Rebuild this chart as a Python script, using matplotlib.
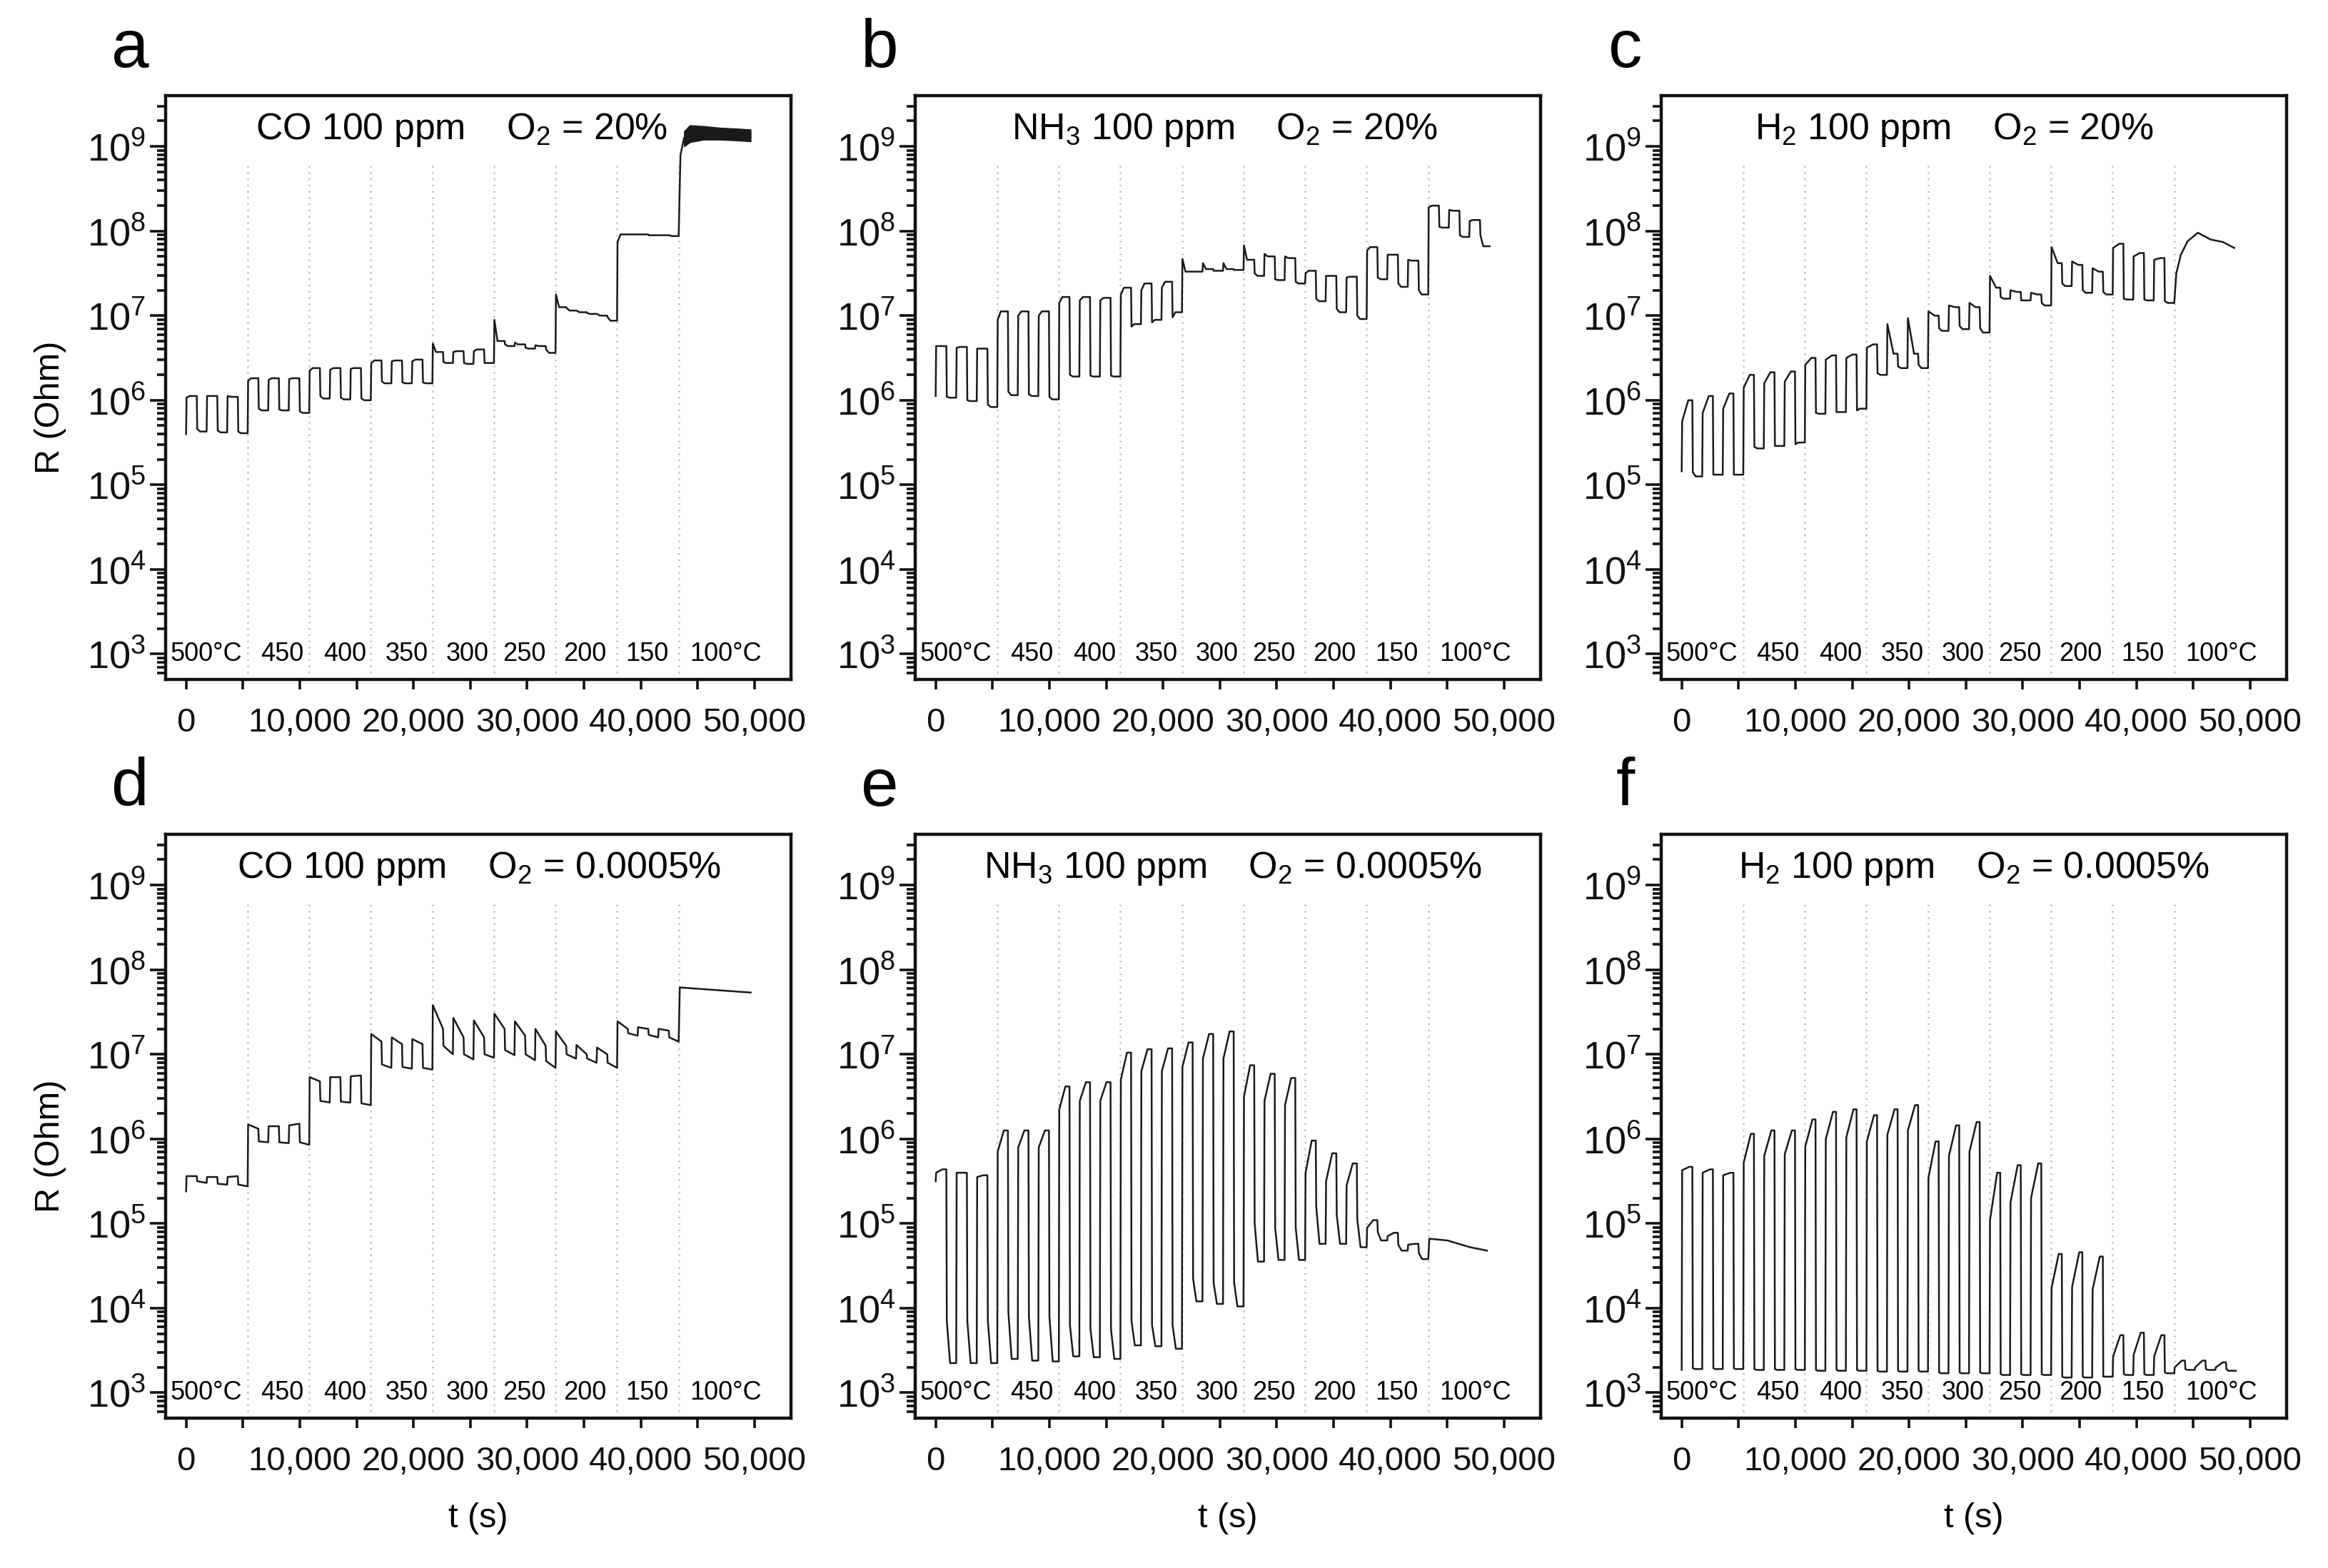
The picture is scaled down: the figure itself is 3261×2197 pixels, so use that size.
import numpy as np
import matplotlib
matplotlib.use("Agg")
import matplotlib.pyplot as plt
from matplotlib.ticker import FuncFormatter, MultipleLocator, LogLocator, NullFormatter

plt.rcParams['font.family'] = ['Liberation Sans', 'DejaVu Sans']
plt.rcParams['mathtext.fontset'] = 'custom'
plt.rcParams['mathtext.rm'] = 'Liberation Sans'
plt.rcParams['mathtext.it'] = 'Liberation Sans:italic'

# time protocol: 9 temperature steps, 3 gas pulses each
L = 5415.0          # s per temperature step
P = L / 3           # s per pulse
HI_FRAC = 0.52
RISE = 40.0

temps = ["500°C", "450", "400", "350", "300", "250", "200", "150", "100°C"]
temp_x = [1760, 8470, 13950, 19390, 24730, 29750, 35070, 40550, 47490]

titles = ["CO 100 ppm    O$_2$ = 20%",
          "NH$_3$ 100 ppm    O$_2$ = 20%",
          "H$_2$ 100 ppm    O$_2$ = 20%",
          "CO 100 ppm    O$_2$ = 0.0005%",
          "NH$_3$ 100 ppm    O$_2$ = 0.0005%",
          "H$_2$ 100 ppm    O$_2$ = 0.0005%"]
letters = ["a", "b", "c", "d", "e", "f"]

# log10(R / Ohm) per pulse: start/end of high part, start/end of low part
# --- a: CO, 20% O2
a_start = 5.60
a_hi0 = [6.03, 6.05, 6.05, 6.23, 6.24, 6.25, 6.35, 6.36, 6.37, 6.44, 6.46, 6.46,
         6.67, 6.57, 6.58, 6.95, 6.68, 6.65, 7.25, 7.06, 7.02, 7.87, 7.96, 7.95]
a_hi1 = [6.05, 6.05, 6.04, 6.26, 6.26, 6.26, 6.38, 6.38, 6.38, 6.47, 6.47, 6.48,
         6.57, 6.58, 6.60, 6.70, 6.66, 6.64, 7.10, 7.04, 7.00, 7.96, 7.96, 7.95]
a_lo0 = [5.66, 5.64, 5.63, 5.90, 5.89, 5.87, 6.05, 6.03, 6.02, 6.22, 6.21, 6.21,
         6.45, 6.44, 6.44, 6.66, 6.62, 6.60, 7.09, 7.03, 6.98, 7.96, 7.95, 7.95]
a_lo1 = [5.63, 5.62, 5.61, 5.88, 5.88, 5.85, 6.02, 6.01, 6.00, 6.20, 6.20, 6.20,
         6.44, 6.43, 6.44, 6.64, 6.61, 6.56, 7.06, 7.02, 6.94, 7.96, 7.95, 7.94]
a_tail_t = [43480, 43800]
a_tail_r = [8.90, 9.10]
a_band_t = [43800, 44300, 45500, 47000, 48500, 49650]
a_band_lo = [9.00, 9.05, 9.08, 9.08, 9.07, 9.06]
a_band_hi = [9.18, 9.25, 9.24, 9.22, 9.21, 9.20]

# --- b: NH3, 20% O2
b_start = 6.05
b_hi0 = [6.64, 6.62, 6.61, 6.95, 7.00, 7.00, 7.15, 7.18, 7.18, 7.25, 7.30, 7.33,
         7.67, 7.62, 7.62, 7.83, 7.73, 7.70, 7.50, 7.47, 7.45, 7.77, 7.72, 7.66,
         8.28, 8.25, 8.12]
b_hi1 = [6.64, 6.63, 6.61, 7.05, 7.05, 7.05, 7.22, 7.22, 7.21, 7.33, 7.38, 7.40,
         7.52, 7.55, 7.55, 7.66, 7.70, 7.68, 7.53, 7.47, 7.46, 7.81, 7.72, 7.65,
         8.30, 8.24, 8.13]
b_lo0 = [6.04, 6.00, 5.95, 6.10, 6.07, 6.04, 6.30, 6.29, 6.29, 6.87, 6.92, 6.98,
         7.52, 7.53, 7.54, 7.50, 7.43, 7.40, 7.20, 7.08, 7.00, 7.45, 7.38, 7.30,
         8.05, 7.95, 7.95]
b_lo1 = [6.03, 5.99, 5.92, 6.06, 6.05, 6.01, 6.28, 6.28, 6.28, 6.90, 6.95, 7.04,
         7.52, 7.53, 7.54, 7.47, 7.42, 7.38, 7.17, 7.04, 6.96, 7.43, 7.34, 7.25,
         8.04, 7.93, 7.82]

# --- c: H2, 20% O2
c_start = 5.16
c_hi0 = [5.75, 5.85, 5.90, 6.15, 6.20, 6.22, 6.42, 6.48, 6.50, 6.62, 6.90, 6.97,
         7.05, 7.12, 7.15, 7.47, 7.30, 7.27, 7.81, 7.64, 7.56, 7.80, 7.70, 7.66]
c_hi1 = [6.00, 6.05, 6.08, 6.30, 6.33, 6.34, 6.50, 6.53, 6.54, 6.66, 6.55, 6.55,
         7.00, 7.10, 7.10, 7.33, 7.28, 7.25, 7.62, 7.60, 7.52, 7.85, 7.74, 7.68]
c_lo0 = [5.15, 5.12, 5.12, 5.45, 5.46, 5.48, 5.85, 5.86, 5.88, 6.32, 6.40, 6.42,
         6.85, 6.88, 6.85, 7.22, 7.18, 7.15, 7.38, 7.30, 7.28, 7.20, 7.19, 7.17]
c_lo1 = [5.10, 5.12, 5.12, 5.43, 5.46, 5.50, 5.84, 5.86, 5.90, 6.30, 6.38, 6.38,
         6.82, 6.84, 6.80, 7.20, 7.18, 7.12, 7.35, 7.27, 7.25, 7.19, 7.18, 7.15]
c_tail_t = [43500, 43900, 44500, 45400, 46500, 47600, 48600]
c_tail_r = [7.50, 7.72, 7.88, 7.98, 7.90, 7.87, 7.80]

# --- d: CO, 0.0005% O2
d_start = 5.38
d_hi0 = [5.56, 5.55, 5.55, 6.17, 6.15, 6.16, 6.73, 6.73, 6.74, 7.24, 7.20, 7.18,
         7.58, 7.43, 7.40, 7.48, 7.39, 7.30, 7.27, 7.11, 7.08, 7.39, 7.32, 7.30]
d_hi1 = [5.56, 5.55, 5.56, 6.12, 6.15, 6.18, 6.68, 6.73, 6.75, 7.15, 7.12, 7.12,
         7.30, 7.20, 7.20, 7.30, 7.22, 7.10, 7.10, 7.00, 7.00, 7.30, 7.30, 7.28]
d_lo0 = [5.50, 5.47, 5.46, 5.97, 5.96, 5.96, 6.45, 6.44, 6.42, 6.88, 6.85, 6.84,
         7.10, 7.00, 7.00, 7.05, 7.00, 6.92, 7.00, 6.95, 6.90, 7.25, 7.23, 7.20]
d_lo1 = [5.48, 5.46, 5.44, 5.96, 5.95, 5.93, 6.43, 6.43, 6.40, 6.84, 6.83, 6.82,
         7.00, 6.94, 6.96, 6.99, 6.93, 6.84, 6.95, 6.90, 6.84, 7.22, 7.20, 7.15]
d_tail_t = [43420, 49650]
d_tail_r = [7.79, 7.73]

# --- e: NH3, 0.0005% O2
e_start = 5.50
e_hi0 = [5.60, 5.60, 5.55, 5.85, 5.90, 5.90, 6.35, 6.45, 6.45, 6.70, 6.80, 6.80,
         6.85, 6.95, 6.95, 6.50, 6.45, 6.40, 5.60, 5.50, 5.45, 4.95, 4.85, 4.75]
e_hi1 = [5.64, 5.60, 5.57, 6.10, 6.10, 6.10, 6.62, 6.67, 6.67, 7.02, 7.06, 7.07,
         7.14, 7.24, 7.27, 6.87, 6.77, 6.72, 5.98, 5.83, 5.71, 5.04, 4.89, 4.76]
e_lo0 = [3.85, 3.85, 3.85, 3.95, 3.90, 3.90, 3.80, 3.75, 3.75, 3.85, 3.80, 3.80,
         4.35, 4.30, 4.30, 5.00, 4.95, 4.95, 5.20, 5.10, 5.05, 4.90, 4.75, 4.65]
e_lo1 = [3.35, 3.35, 3.35, 3.40, 3.38, 3.37, 3.43, 3.42, 3.40, 3.56, 3.55, 3.52,
         4.08, 4.05, 4.02, 4.55, 4.57, 4.57, 4.76, 4.76, 4.72, 4.80, 4.68, 4.58]
e_tail_t = [43420, 45000, 47000, 48480]
e_tail_r = [4.82, 4.80, 4.72, 4.68]

# --- f: H2, 0.0005% O2
f_start = 3.27
f_hi0 = [5.63, 5.60, 5.57, 5.72, 5.80, 5.82, 5.91, 6.00, 6.02, 5.97, 6.05, 6.10,
         5.54, 5.80, 5.85, 5.04, 5.25, 5.30, 4.24, 4.25, 4.22, 3.43, 3.45, 3.43,
         3.30, 3.30, 3.30]
f_hi1 = [5.67, 5.64, 5.60, 6.06, 6.10, 6.10, 6.23, 6.32, 6.35, 6.28, 6.35, 6.40,
         5.97, 6.16, 6.20, 5.60, 5.69, 5.71, 4.64, 4.66, 4.61, 3.68, 3.71, 3.68,
         3.38, 3.38, 3.36]
f_lo0 = [3.29, 3.29, 3.29, 3.28, 3.28, 3.28, 3.27, 3.27, 3.27, 3.26, 3.26, 3.26,
         3.24, 3.24, 3.24, 3.22, 3.22, 3.22, 3.19, 3.19, 3.19, 3.22, 3.22, 3.24,
         3.28, 3.28, 3.28]
f_lo1 = [3.28, 3.28, 3.28, 3.27, 3.27, 3.27, 3.26, 3.26, 3.26, 3.25, 3.25, 3.25,
         3.23, 3.23, 3.23, 3.21, 3.21, 3.21, 3.18, 3.18, 3.19, 3.21, 3.21, 3.23,
         3.27, 3.27, 3.26]


def build(start, hi0, hi1, lo0, lo1, hi_knee, lo_knee, tail_t=(), tail_r=()):
    t = [0.0]
    r = [start]
    for k in range(len(hi0)):
        t0 = k * P
        th = t0 + HI_FRAC * P
        t += [t0 + RISE, t0 + RISE + hi_knee * (th - t0 - RISE), th,
              th + RISE, th + RISE + lo_knee * (t0 + P - th - RISE), t0 + P]
        r += [hi0[k], hi1[k], hi1[k], lo0[k], lo1[k], lo1[k]]
    t += list(tail_t)
    r += list(tail_r)
    return np.array(t), 10 ** np.array(r)


traces = [
    build(a_start, a_hi0, a_hi1, a_lo0, a_lo1, 0.3, 0.3, a_tail_t, a_tail_r),
    build(b_start, b_hi0, b_hi1, b_lo0, b_lo1, 0.3, 0.3),
    build(c_start, c_hi0, c_hi1, c_lo0, c_lo1, 0.6, 0.3, c_tail_t, c_tail_r),
    build(d_start, d_hi0, d_hi1, d_lo0, d_lo1, 1.0, 1.0, d_tail_t, d_tail_r),
    build(e_start, e_hi0, e_hi1, e_lo0, e_lo1, 0.6, 0.35, e_tail_t, e_tail_r),
    build(f_start, f_hi0, f_hi1, f_lo0, f_lo1, 0.7, 0.2),
]

W, H = 3261, 2197
fig = plt.figure(figsize=(W / 200, H / 200), dpi=200)

lefts = [232, 1282, 2327]
tops = [134, 1169]
aw, ah = 876, 818
title_x = [0.473, 0.495, 0.469, 0.501, 0.508, 0.5]
ylo, yhi = 10 ** 2.70, 10 ** 9.60

for i in range(6):
    row, col = divmod(i, 3)
    ax = fig.add_axes([lefts[col] / W, 1 - (tops[row] + ah) / H, aw / W, ah / H])
    ax.set_yscale('log')
    ax.set_xlim(-1800, 53200)
    ax.set_ylim(ylo, yhi)

    # temperature step boundaries
    ax.vlines([L * k for k in range(1, 9)], ylo, 10 ** 8.82, colors='#c4c4c4',
              linestyles=(0, (1, 2.5)), linewidth=0.9, zorder=1)

    t, r = traces[i]
    ax.plot(t, r, color='#1a1a1a', lw=0.9, zorder=3)
    if i == 0:
        ax.fill_between(a_band_t, 10 ** np.array(a_band_lo), 10 ** np.array(a_band_hi),
                        color='#1a1a1a', lw=0.5, zorder=3)

    for tx, lab in zip(temp_x, temps):
        ax.text(tx, 0.032, lab, transform=ax.get_xaxis_transform(),
                ha='center', va='baseline', fontsize=13)

    ax.text(title_x[i], 0.925, titles[i], transform=ax.transAxes,
            ha='center', va='baseline', fontsize=18.7)
    ax.text(-0.057, 1.049, letters[i], transform=ax.transAxes,
            ha='center', va='baseline', fontsize=34)

    ax.set_xticks(range(0, 50001, 10000))
    ax.xaxis.set_major_formatter(FuncFormatter(lambda v, p: f"{int(v):,}"))
    ax.xaxis.set_minor_locator(MultipleLocator(5000))
    ax.set_yticks([10 ** k for k in range(3, 10)])
    ax.set_yticklabels([f"$10^{{{k}}}$" for k in range(3, 10)])
    ax.yaxis.set_minor_locator(LogLocator(base=10, subs=np.arange(2, 10), numticks=20))
    ax.yaxis.set_minor_formatter(NullFormatter())

    ax.tick_params(axis='both', which='both', direction='out', top=False, right=False,
                   width=1.3, colors='#111111')
    ax.tick_params(axis='x', which='major', length=5, labelsize=17, pad=9)
    ax.tick_params(axis='x', which='minor', length=5)
    ax.tick_params(axis='y', which='major', length=8, labelsize=19.5, pad=2)
    ax.tick_params(axis='y', which='minor', length=4.5)
    for s in ax.spines.values():
        s.set_linewidth(1.6)
        s.set_color('#111111')

    if col == 0:
        ax.set_ylabel("R (Ohm)", fontsize=17.5)
        ax.yaxis.set_label_coords(-0.159, 0.466)
    if row == 1:
        ax.set_xlabel("t (s)", fontsize=17.5)
        ax.xaxis.set_label_coords(0.5, -0.172)
        ax.xaxis.label.set_va('center')

fig.savefig("out.png", dpi=200, facecolor='white')
